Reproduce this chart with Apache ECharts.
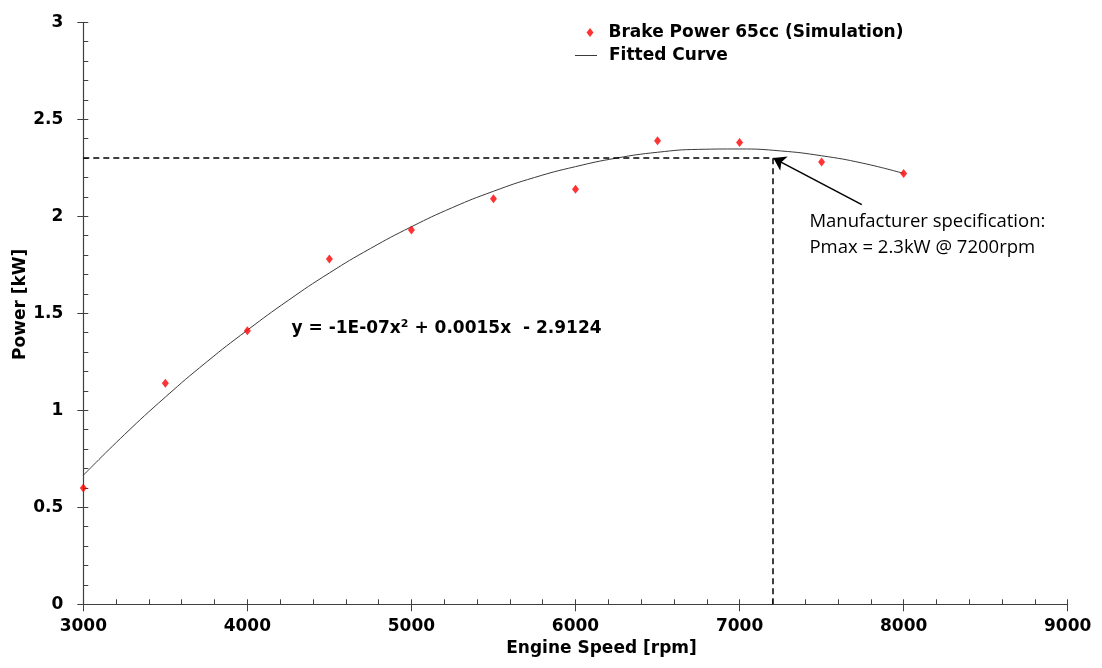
<!DOCTYPE html>
<html><head><meta charset="utf-8">
<script src="https://cdn.jsdelivr.net/npm/echarts@6/dist/echarts.min.js"></script>
<style>html,body{margin:0;padding:0;background:#fff}#c{width:1102px;height:668px}</style>
</head><body><div id="c"></div>
<script>
// ---- data ----
const speeds = [3000, 3500, 4000, 4500, 5000, 5500, 6000, 6500, 7000, 7500, 8000];
const brakePower = [0.60, 1.14, 1.41, 1.78, 1.93, 2.09, 2.14, 2.39, 2.38, 2.28, 2.22];
// fitted curve every 250 rpm
const curveSpeeds = [3000, 3250, 3500, 3750, 4000, 4250, 4500, 4750, 5000, 5250, 5500, 5750, 6000, 6250, 6500, 6750, 7000, 7250, 7500, 7750, 8000];
const fittedPower = [0.665, 0.874, 1.068, 1.248, 1.413, 1.567, 1.708, 1.834, 1.946, 2.045, 2.129, 2.200, 2.256, 2.300, 2.330, 2.345, 2.347, 2.337, 2.312, 2.274, 2.221];
const xTickLabels = ['3000', '4000', '5000', '6000', '7000', '8000', '9000'];
const yTickLabels = ['0', '0.5', '1', '1.5', '2', '2.5', '3'];
const specSpeed = 7200;
const specPower = 2.3;
const arrowStart = [7745, 2.06];
const arrowEnd = [7206, 2.30];
const equationAnchor = [4272, 1.418];
const noteAnchor = [7429, 2.035];
const seriesNames = ['Brake Power 65cc (Simulation)', 'Fitted Curve'];
const equationText = 'y = -1E-07x{sup|2} + 0.0015x  - 2.9124';
const noteText = 'Manufacturer specification:\nPmax = 2.3kW @ 7200rpm';

const BOLD = { fontFamily: 'DejaVu Sans', fontWeight: 'bold', fontSize: 17, color: '#000' };
const AXIS_COLOR = '#404040';

const chart = echarts.init(document.getElementById('c'), null, { renderer: 'canvas' });

function xLabel(v) { const i = xTickLabels.indexOf(String(v)); return i >= 0 ? xTickLabels[i] : ''; }
function yLabel(v) { const s = String(Math.round(v * 10) / 10); return yTickLabels.indexOf(s) >= 0 ? s : ''; }

const baseX = { type: 'value', min: 3000, max: 9000, interval: 1000, gridIndex: 0, position: 'bottom', splitLine: { show: false } };
const baseY = { type: 'value', min: 0, max: 3, interval: 0.5, gridIndex: 0, position: 'left', splitLine: { show: false } };

chart.setOption({
  animation: false,
  backgroundColor: '#fff',
  grid: { left: 83.3, right: 34.3, top: 22.3, bottom: 63.7, containLabel: false, outerBoundsMode: 'none' },
  legend: [
    { data: [seriesNames[0]], left: 586.5, top: 24, padding: 0, itemWidth: 7, itemHeight: 9, icon: 'diamond',
      selectedMode: false, textStyle: Object.assign({}, BOLD, { padding: [0, 0, 0, 10] }) },
    { data: [{ name: seriesNames[1], icon: 'rect' }], left: 575, top: 47, padding: 0, itemWidth: 22, itemHeight: 1,
      selectedMode: false, textStyle: Object.assign({}, BOLD, { padding: [5, 0, 0, 7] }) }
  ],
  xAxis: [
    Object.assign({}, baseX, {
      name: 'Engine Speed [rpm]', nameLocation: 'middle', nameGap: 36, nameMoveOverlap: false,
      nameTextStyle: Object.assign({}, BOLD, { padding: [0, 0, 0, 52] }),
      axisLine: { show: true, onZero: false, lineStyle: { color: AXIS_COLOR, width: 1.2 } },
      axisTick: { show: true, inside: true, length: 5, lineStyle: { color: AXIS_COLOR } },
      minorTick: { show: true, splitNumber: 5, length: 5, lineStyle: { color: AXIS_COLOR } },
      axisLabel: Object.assign({}, BOLD, { margin: 14, formatter: xLabel })
    }),
    Object.assign({}, baseX, {
      axisLine: { show: false, onZero: false },
      axisTick: { show: true, inside: false, length: 7, lineStyle: { color: AXIS_COLOR } },
      axisLabel: { show: false }
    })
  ],
  yAxis: [
    Object.assign({}, baseY, {
      name: 'Power [kW]', nameLocation: 'middle', nameGap: 54, nameMoveOverlap: false,
      nameTextStyle: Object.assign({}, BOLD, { padding: [0, 0, 0, 18] }),
      axisLine: { show: true, onZero: false, lineStyle: { color: AXIS_COLOR, width: 1.2 } },
      axisTick: { show: true, inside: true, length: 5, lineStyle: { color: AXIS_COLOR } },
      minorTick: { show: true, splitNumber: 5, length: 5, lineStyle: { color: AXIS_COLOR } },
      axisLabel: Object.assign({}, BOLD, { margin: 20, formatter: yLabel })
    }),
    Object.assign({}, baseY, {
      axisLine: { show: false, onZero: false },
      axisTick: { show: true, inside: false, length: 6, lineStyle: { color: AXIS_COLOR } },
      axisLabel: { show: false }
    })
  ],
  series: [
    {
      name: seriesNames[0], type: 'scatter', xAxisIndex: 0, yAxisIndex: 0,
      data: speeds.map((s, i) => [s, brakePower[i]]),
      symbol: 'diamond', symbolSize: [7, 9], itemStyle: { color: '#ff0000' }, z: 5,
      markLine: {
        silent: true, symbol: ['none', 'none'], label: { show: false },
        lineStyle: { type: [6, 4], color: '#000', width: 1.5 },
        data: [
          [{ coord: [3000, specPower] }, { coord: [specSpeed, specPower] }],
          [{ coord: [specSpeed, 0] }, { coord: [specSpeed, specPower] }]
        ]
      }
    },
    {
      name: seriesNames[1], type: 'line', xAxisIndex: 0, yAxisIndex: 0,
      data: curveSpeeds.map((s, i) => [s, fittedPower[i]]),
      smooth: true, symbol: 'none', showSymbol: false, lineStyle: { color: '#3a3a3a', width: 1 }, itemStyle: { color: '#3a3a3a' }, z: 4,
      markLine: {
        silent: true, symbol: ['none', 'arrow'], symbolSize: 12, label: { show: false },
        lineStyle: { type: 'solid', color: '#000', width: 1.5 }, itemStyle: { color: '#000' },
        data: [[{ coord: arrowStart }, { coord: arrowEnd }]]
      },
      markPoint: {
        silent: true, symbol: 'circle', symbolSize: 1, itemStyle: { color: 'rgba(0,0,0,0)' },
        data: [
          { coord: equationAnchor, label: {
              show: true, position: [0, 0], align: 'left', verticalAlign: 'middle',
              formatter: equationText,
              fontFamily: 'DejaVu Sans', fontWeight: 'bold', fontSize: 17, color: '#000', lineHeight: 20,
              rich: { sup: { fontFamily: 'DejaVu Sans', fontWeight: 'bold', fontSize: 11, color: '#000', verticalAlign: 'top', lineHeight: 12 } }
          } },
          { coord: noteAnchor, label: {
              show: true, position: [0, 0], align: 'left', verticalAlign: 'top',
              formatter: noteText,
              fontFamily: 'Open Sans', fontWeight: 'normal', fontSize: 18.5, color: '#000', lineHeight: 26
          } }
        ]
      }
    }
  ]
});
</script></body></html>
